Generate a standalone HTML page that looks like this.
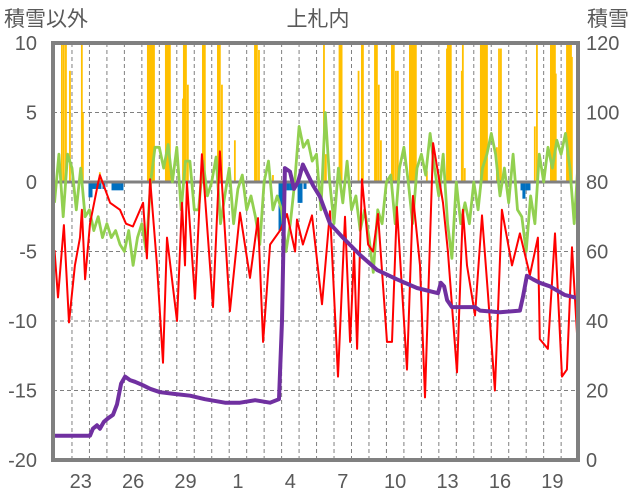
<!DOCTYPE html>
<html><head><meta charset="utf-8">
<style>
html,body{margin:0;padding:0;background:#fff;}
svg{display:block;font-family:"Liberation Sans","Noto Sans CJK JP",sans-serif;}
</style></head>
<body>
<svg id="chart" width="636" height="501" viewBox="0 0 636 501" xmlns="http://www.w3.org/2000/svg">
<defs><clipPath id="pc"><rect x="53" y="43" width="525" height="417"/></clipPath></defs>
<text x="4" y="26" font-size="21" fill="#595959">積雪以外</text>
<text x="318" y="26" font-size="21" fill="#595959" text-anchor="middle">上札内</text>
<text x="587" y="26" font-size="21" fill="#595959">積雪</text>
<g id="grid"></g>
<g id="marks" clip-path="url(#pc)"></g>
<rect x="53" y="43" width="525" height="417" fill="none" stroke="#808080" stroke-width="4"/>
<g id="labels"></g>
</svg>
<script>
const leftTicks=[10,5,0,-5,-10,-15,-20];
const rightTicks=[120,100,80,60,40,20,0];
const xTickLabels=["23","26","29","1","4","7","10","13","16","19"];
const xTickDays=[1,4,7,10,13,16,19,22,25,28];
const precT=[0.43,0.54,0.66,0.89,1.57,1.63,2.6,5.35,5.41,5.47,5.52,5.58,5.64,5.7,6.38,6.44,6.5,6.55,6.61,7.36,7.41,7.47,7.53,7.64,8.5,8.55,8.61,9.36,9.42,9.47,9.59,10.33,11.48,11.53,11.59,11.71,12.51,13.6,15.43,15.54,16.32,16.38,16.44,17.41,17.6,17.66,18.35,18.41,18.46,18.57,18.69,19.32,19.38,19.43,19.55,19.66,20.35,20.41,20.46,20.52,20.58,20.64,20.69,21.32,22.47,22.52,22.58,22.64,22.69,23.32,23.38,23.49,24.41,24.47,24.53,24.58,24.64,24.7,24.76,25.33,25.45,25.56,27.5,27.62,28.42,28.47,28.53,28.59,28.65,28.7,29.34,29.4,29.45,29.51,29.57,29.62];
const precV=[12,12,12,8,12,5,0.7,12,12,12,12,12,12,12,12,12,12,12,12,6,12,12,12,7,12,12,12,12,12,12,7,3,12,12,12,9.5,0.5,0.5,12,2,12,12,12,8,12,12,12,12,12,7,3,12,12,12,8,8,12,12,12,12,12,12,12,0.8,9.6,12,12,12,12,8,12,1,12,12,12,12,12,12,12,2.5,9.6,9.6,4,12,12,12,12,12,12,7.8,12,12,12,12,12,9];
const negT=[2.03,2.09,2.26,2.43,2.6,2.83,3.35,3.52,3.69,3.86,12.91,12.97,13.02,13.08,13.14,13.37,13.54,14.0,14.11,14.34,22.07,26.76,26.87,27.04,27.16];
const negV=[-1.1,-1.1,-0.5,-0.5,-0.5,-0.5,-0.6,-0.6,-0.6,-0.6,-3.5,-3.5,-3.5,-3.2,-3,-0.6,-0.6,-1.5,-1.5,-0.5,-0.5,-0.6,-1.2,-0.6,-0.6];
const greenV=[-1.5,2,-2.5,2,1,-2,1,-2.5,-2,-3.5,-2.5,-4,-3,-4,-3.5,-4.5,-5,-3.5,-6,-4,-3,-5,0,2.5,2.5,1,2.7,0,2.5,-2,1.5,1.5,-2,-2,1.5,-1,0,1.8,-3,-1,1,-3,-0.5,0.5,-2,-1,-2.5,-4.5,0,1.5,-2,-1,-2,-5,-3,0,4,2.5,3,1.5,2,-2,5,0,-3,1,-1.5,1.5,-2,-1,-3.5,-2,-4,-6.5,-2,-3,0,0.5,-3,1,2.5,0,-3,1,2,0.5,3.5,1,-1,2,-3,-5.5,0,-3,-1.5,-3,0,-2,1,2,3.5,2,-1,1,-1.5,2,-2,-2.5,-5,-1,-3,2,0,2.5,1,3,2,3.5,1,-3,2];
const redT=[0,0.2,0.54,0.83,1.17,1.46,1.57,1.75,2.03,2.49,2.6,3.18,3.75,4.09,4.49,5.07,5.29,5.47,5.87,6.21,6.44,7.01,7.3,7.47,7.58,8.04,8.44,9.07,9.47,10.04,10.62,11.19,11.65,11.94,12.34,12.91,13.31,13.77,13.88,14.22,14.74,15.31,15.77,16.23,16.63,16.92,17.15,17.32,17.6,17.95,18.23,18.52,19.03,19.32,19.6,20.18,20.52,20.92,21.21,21.67,22.24,22.52,23.04,23.38,23.61,24.07,24.47,24.81,25.21,25.61,26.19,26.64,27.21,27.67,27.78,28.24,28.65,29.05,29.33,29.62,29.96];
const redV=[-4.9,-8.3,-3.1,-10.1,-6,-4,-2,-7,-3,-0.1,0.5,-1.5,-2,-3,-3.2,-1.5,-5.5,0.2,-6,-13,-4,-10,-1.5,-6,0,-8.4,2,-9,2.2,-9.3,-2.2,-6.9,-2.6,-11.5,-4.5,-3.5,-2.3,-5,-2.7,-4.5,-2.4,-8.8,-2.1,-14,-2.5,-11.5,-5,-12,0.2,-4.5,-5,-2.3,-11.5,-11.5,-1.8,-13.5,-1,-6,-15.5,2.8,-1.5,-5,-13.7,-2,-6,-9.6,-2.4,-8,-15,-2,-6,-3.7,-6.7,-4,-11.3,-12,-3.7,-14,-13.5,-4.7,-12];
const snowT=[0,2.03,2.2,2.43,2.6,2.83,3.06,3.35,3.58,3.81,4.04,4.32,4.61,5.07,5.47,6.04,6.9,7.76,8.61,9.76,10.62,11.48,12.34,12.85,13.02,13.19,13.48,13.71,13.94,14.22,14.51,14.8,15.2,15.77,16.51,17.49,18.46,19.6,20.75,21.95,22.12,22.3,22.47,22.75,24.07,24.36,25.5,26.64,26.82,27.04,27.39,27.78,28.35,29.2,29.94];
const snowV=[7,7,9,10,9,11,12,13,16,22,24,23,22.5,21.5,20.5,19.5,19,18.5,17.5,16.5,16.5,17.2,16.5,17.5,40,84,83,78,80,85,82,79,75.7,68,64,59,54.7,52,49.5,48,51,50,46,44,44,43,42.5,43,47,53,52,51,50,47.5,46.6];

const X0=54.5, DW=17.47, YT=43, YB=460;
const xs=t=>X0+t*DW;
const yL=v=>YB-(v+20)/30*(YB-YT);
const yR=v=>YB-v/120*(YB-YT);
const NS="http://www.w3.org/2000/svg";
function mk(tag,parent){const e=document.createElementNS(NS,tag);parent.appendChild(e);return e;}
const grid=document.getElementById('grid'),marks=document.getElementById('marks'),labels=document.getElementById('labels');
for(let d=1;d<30;d++){
  const l=mk('line',grid);
  
  
  l.setAttribute('x1',xs(d));l.setAttribute('x2',xs(d));l.setAttribute('y1',YT);l.setAttribute('y2',YB);
  l.setAttribute('stroke','#808080');l.setAttribute('stroke-width','1');l.setAttribute('stroke-dasharray','4,3');
}
leftTicks.forEach((v,i)=>{
  if(v!==10&&v!==-20&&v!==0){
    const l=mk('line',grid);
    
    
    l.setAttribute('x1',53);l.setAttribute('x2',578);l.setAttribute('y1',yL(v));l.setAttribute('y2',yL(v));
    l.setAttribute('stroke','#808080');l.setAttribute('stroke-width','1');l.setAttribute('stroke-dasharray','4,3');
  }
  const t=mk('text',labels);
  
  
  t.setAttribute('x',37);t.setAttribute('y',yL(v)+7);t.setAttribute('text-anchor','end');
  t.setAttribute('font-size','20');t.setAttribute('fill','#595959');t.textContent=v;
  const r=mk('text',labels);
  
  
  r.setAttribute('x',586);r.setAttribute('y',yL(v)+7);
  r.setAttribute('font-size','20');r.setAttribute('fill','#595959');r.textContent=rightTicks[i];
});
xTickLabels.forEach((s,i)=>{
  const t=mk('text',labels);
  
  
  t.setAttribute('x',xs(xTickDays[i]+0.5));t.setAttribute('y',488);t.setAttribute('text-anchor','middle');
  t.setAttribute('font-size','20');t.setAttribute('fill','#595959');t.textContent=s;
});
precT.forEach((t,i)=>{
  const r=mk('rect',marks);
  
  
  const y=yL(precV[i]);
  r.setAttribute('x',xs(t)-1);r.setAttribute('width',1.8);r.setAttribute('y',y);r.setAttribute('height',yL(0)-y);
  r.setAttribute('fill','#FFC000');
});
negT.forEach((t,i)=>{
  const r=mk('rect',marks);
  
  
  r.setAttribute('x',xs(t)-1.5);r.setAttribute('width',3);r.setAttribute('y',yL(0));r.setAttribute('height',yL(negV[i])-yL(0));
  r.setAttribute('fill','#0070C0');
});
const zero=mk('line',marks);


zero.setAttribute('x1',53);zero.setAttribute('x2',578);zero.setAttribute('y1',yL(0));zero.setAttribute('y2',yL(0));
zero.setAttribute('stroke','#808080');zero.setAttribute('stroke-width','3');
function line(ptsX,ptsY,color,w,name){
  const p=mk('polyline',marks);
  
  
  p.setAttribute('points',ptsX.map((x,i)=>x.toFixed(1)+','+ptsY[i].toFixed(1)).join(' '));
  p.setAttribute('fill','none');p.setAttribute('stroke',color);p.setAttribute('stroke-width',w);
  p.setAttribute('stroke-linejoin','round');
}
line(greenV.map((v,i)=>xs(i*0.25)),greenV.map(yL),'#92D050',2.8,'green-series');
line(redT.map(xs),redV.map(yL),'#FF0000',2,'red-series');
line(snowT.map(xs),snowV.map(yR),'#7030A0',4,'snow-depth-series');
</script>
</body></html>
